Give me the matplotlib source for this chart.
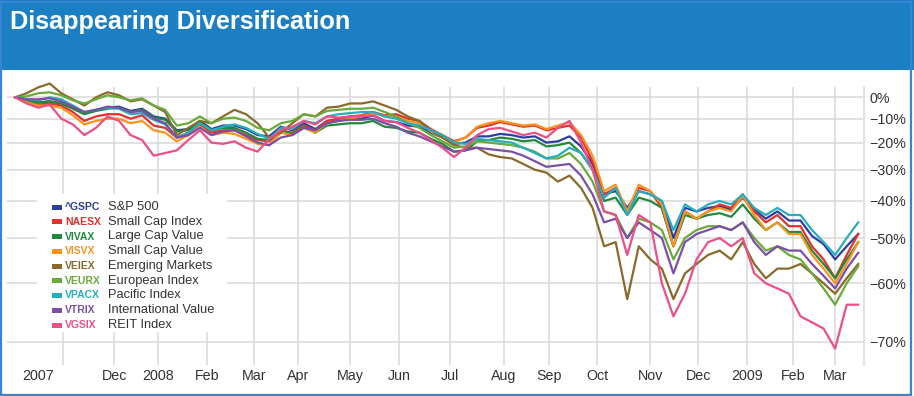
import numpy as np
import matplotlib.pyplot as plt
from matplotlib.patches import Rectangle
from matplotlib.ticker import NullLocator

plt.rcParams['font.family'] = ['Liberation Sans', 'DejaVu Sans']

# trading days since start (Oct 2007), one sample every 5 sessions
days = np.arange(0, 366, 5)

# % change from start
gspc = [0, -1.5, -2.5, -2, -3, -5, -7.5, -6, -5, -4.5,
        -6.5, -5.5, -9, -10, -15, -14.5, -11, -14.5, -13, -13,
        -14.5, -17, -17.5, -13.5, -15, -12, -14.5, -11, -10.5, -10,
        -10, -8.5, -11, -11.5, -13, -13.5, -16, -18, -20.5, -20,
        -17.5, -17.5, -16.5, -17, -18, -17.5, -20, -19.5, -17.5, -21.5,
        -28, -38, -37, -42, -37, -38, -40, -50, -42, -43,
        -42, -41.5, -42.5, -39, -42.5, -45, -43, -45.5, -45.5, -49.5,
        -51.5, -55, -52, -49]
naesx = [0, -2, -3.5, -3, -4, -7, -11, -9, -8, -8,
         -10, -8.5, -13, -14, -18, -16, -12.5, -16, -15, -15,
         -17, -19, -19.5, -15, -16, -13, -15, -11, -10, -9,
         -8.5, -7, -8.5, -8, -10, -11, -14.5, -17, -19.5, -18,
         -14, -13, -11.5, -12.5, -13.5, -13, -15, -14, -13, -18,
         -27, -38, -36, -43, -36, -37, -42, -52, -43, -45,
         -43, -41, -42, -38, -43, -46, -44, -47, -47, -52,
         -55, -59, -54, -49]
vivax = [0, -1.5, -2.5, -2, -3, -5.5, -8, -6.5, -5.5, -5,
         -7, -6, -9.5, -10.5, -15.5, -15, -11.5, -15, -14, -14,
         -16, -18.5, -19, -15, -16.5, -13.5, -16, -13, -12.5, -12,
         -12, -11, -13.5, -14, -15.5, -16, -18.5, -20.5, -23.5, -23,
         -19.5, -19, -18, -18.5, -19.5, -19, -21.5, -21, -20, -24,
         -30, -40, -39, -44, -39, -40, -42, -52, -44, -45,
         -44, -43.5, -44.5, -41, -45, -48, -46, -48.5, -48.5, -53,
         -56, -59, -55, -51]
visvx = [0, -2.5, -4, -4, -5, -8.5, -12.5, -11, -10, -10,
         -12, -11, -15, -16, -19.5, -17, -13.5, -17, -16, -16.5,
         -18.5, -20.5, -21, -16, -17, -14, -16, -12, -11, -10,
         -9, -7.5, -9, -9, -11, -12, -15.5, -18, -20, -18,
         -13.5, -12, -11, -12, -13, -12.5, -14.5, -13, -11.5, -17,
         -25, -37, -35, -43, -35, -37, -41, -52, -43, -45,
         -43, -42, -43, -38.5, -44, -48, -46, -49, -49, -54,
         -57, -60, -56, -51]
veiex = [0, 2, 5, 7, 2, -1, -4, 0, 2.5, 1,
         -2, -1, -4, -7, -17, -14, -11, -12, -9, -6,
         -8, -12, -18, -16, -12, -8, -9, -5, -4.5, -3,
         -3, -2, -4, -6, -9, -11, -15, -18, -21, -22,
         -22, -24.5, -25.5, -26, -28, -30, -31, -34, -32, -36,
         -42, -52, -51, -63, -52, -55, -57, -63, -58, -56,
         -54, -53, -55, -51, -56, -59, -57, -57, -56, -58,
         -60, -62, -59, -56]
veurx = [0, 0.5, 2, 2.5, 1, -1.5, -3, -1, 1, 0,
         -1.5, -0.5, -4, -6, -13, -12, -9, -12, -10, -9.5,
         -11, -14, -15, -12, -11, -8, -9, -6.5, -6, -5.5,
         -5.5, -5, -7, -9, -12, -14, -17, -19.5, -22, -21.5,
         -19.5, -20, -20.5, -21, -22, -23.5, -26, -26, -24, -28,
         -34, -43, -44, -50, -45, -46, -48, -55, -50, -48,
         -47, -47, -48, -46, -50, -53, -52, -54, -55, -58,
         -61, -64, -60, -56.5]
vpacx = [0, -1, -1.5, 0, -1, -4, -7, -6, -5, -5.5,
         -8, -7.5, -10.5, -12.5, -18, -16, -12, -15, -13.5, -12.5,
         -14, -16.5, -18.5, -14, -14.5, -11, -12, -9, -8, -7.5,
         -7, -7, -9, -10, -12, -13, -15, -17, -20, -20.5,
         -18.5, -19, -19.5, -20, -22, -24, -26, -25, -22, -24,
         -30, -39, -36, -44, -37, -38, -40, -48, -41, -43,
         -41, -40, -41, -38, -42, -44, -42, -44, -44, -48,
         -51, -54, -50, -46]
vtrix = [0, -1, -1, -0.5, -2, -4.5, -7, -6, -4.5, -5,
         -7, -6.5, -10, -12, -18, -17, -14, -17, -15.5, -15,
         -17.5, -20, -21, -18, -17, -14, -15, -12, -11, -10.5,
         -10.5, -10, -12, -13.5, -16, -17.5, -19.5, -21.5, -23.5, -23,
         -22, -22.5, -23, -23.5, -25, -27, -29, -28.5, -28, -32,
         -38, -46, -45, -50, -46, -48, -50, -58, -51, -49,
         -48, -47, -48, -46, -51, -54, -52, -53, -53, -56,
         -58.5, -61, -57, -53.5]
vgsix = [0, -3, -5, -3.5, -10, -12.5, -17, -14, -9, -11,
         -17, -19, -25, -24, -23, -19, -15, -20, -20.5, -19.5,
         -22, -23.5, -18.5, -15, -13.5, -11, -12.5, -9, -9.5, -9,
         -9, -8.5, -11, -11.5, -14, -16, -19, -22, -25.5, -22,
         -17, -14.5, -14, -15.5, -17, -16, -18, -14, -11, -20,
         -30, -43, -44, -54, -44, -46, -60, -66, -62, -55,
         -51, -50, -52, -50, -58, -60, -61, -62, -66, -67,
         -68, -71, -64, -64]

tickers = ['^GSPC', 'NAESX', 'VIVAX', 'VISVX', 'VEIEX', 'VEURX', 'VPACX', 'VTRIX', 'VGSIX']
names = ['S&P 500', 'Small Cap Index', 'Large Cap Value', 'Small Cap Value', 'Emerging Markets',
         'European Index', 'Pacific Index', 'International Value', 'REIT Index']
colors = ['#2b3f9e', '#e3312d', '#1f8a3e', '#f7941d', '#8a6a2a', '#6aaa3c', '#27adbf', '#7b4fa6', '#ec4f88']
series = [gspc, naesx, vivax, visvx, veiex, veurx, vpacx, vtrix, vgsix]

# x axis (trading-day positions of month gridlines)
month_pos = [20.8, 42.9, 61.9, 83.1, 103.5, 122.5, 145.0, 166.2, 188.3, 211.7,
             231.2, 251.9, 274.9, 295.7, 316.9, 336.8, 355.0]
month_lab = ['', 'Dec', '2008', 'Feb', 'Mar', 'Apr', 'May', 'Jun', 'Jul', 'Aug',
             'Sep', 'Oct', 'Nov', 'Dec', '2009', 'Feb', 'Mar']
pct_ticks = [0, -10, -20, -30, -40, -50, -60, -70]

W, H = 914, 396
fig = plt.figure(figsize=(W / 100, H / 100), dpi=100)

# header bar
fig.patches.append(Rectangle((0, 1 - 70 / H), 1, 70 / H, transform=fig.transFigure,
                             facecolor='#1c7fc4', edgecolor='none', zorder=0))
fig.patches.append(Rectangle((1 / W, 1 / H), 910 / W, 393 / H, transform=fig.transFigure,
                             facecolor='none', edgecolor='#3585d4', lw=1.6, zorder=5))
fig.text(10.5 / W, 1 - 29 / H, 'Disappearing Diversification', color='white',
         fontsize=18.2, fontweight='bold', va='baseline', ha='left')

ax = fig.add_axes([7 / W, 1 - 365 / H, 857 / W, 278 / H])
for vals, c in zip(series, colors):
    ax.plot(days, 1 + np.array(vals) / 100, color=c, lw=1.6, clip_on=False, zorder=3)

ax.set_yscale('log')
ax.set_ylim(0.2675, 1.052)
ax.set_xlim(-3.5, 367.5)
ax.yaxis.set_minor_locator(NullLocator())
ax.set_yticks([1 + p / 100 for p in pct_ticks])
ax.set_yticklabels([f'{p}%'.replace('-', '\u2212') for p in pct_ticks])
ax.yaxis.tick_right()
ax.set_xticks(month_pos)
ax.set_xticklabels(month_lab)
ax.set_xticks([10], minor=True)
ax.set_xticklabels(['2007'], minor=True)
ax.tick_params(axis='both', which='both', length=0, labelsize=10.3, colors='#333333')
ax.tick_params(axis='x', which='both', pad=3)
ax.tick_params(axis='y', pad=4)
ax.grid(True, which='major', color='#dcdcdc', lw=1.2)
ax.set_axisbelow(True)
for s in ['top', 'left', 'bottom']:
    ax.spines[s].set_visible(False)
ax.spines['right'].set_color('#dcdcdc')
ax.spines['right'].set_linewidth(1.2)

# legend block
fig.patches.append(Rectangle((37 / W, 1 - 332 / H), 190 / W, 138 / H, transform=fig.transFigure,
                             facecolor='white', edgecolor='none', zorder=1))
for i, (t, n, c) in enumerate(zip(tickers, names, colors)):
    yc = 207 + i * 14.75
    fig.patches.append(Rectangle((52 / W, 1 - (yc + 2.5) / H), 10 / W, 5 / H,
                                 transform=fig.transFigure, facecolor=c, edgecolor='none', zorder=2))
    fig.text(65 / W, 1 - yc / H, t, color=c, fontsize=7.5, fontweight='bold', va='center', ha='left')
    fig.text(108 / W, 1 - yc / H, n, color='#333333', fontsize=9.3, va='center', ha='left')

fig.savefig('out.png', dpi=100)
